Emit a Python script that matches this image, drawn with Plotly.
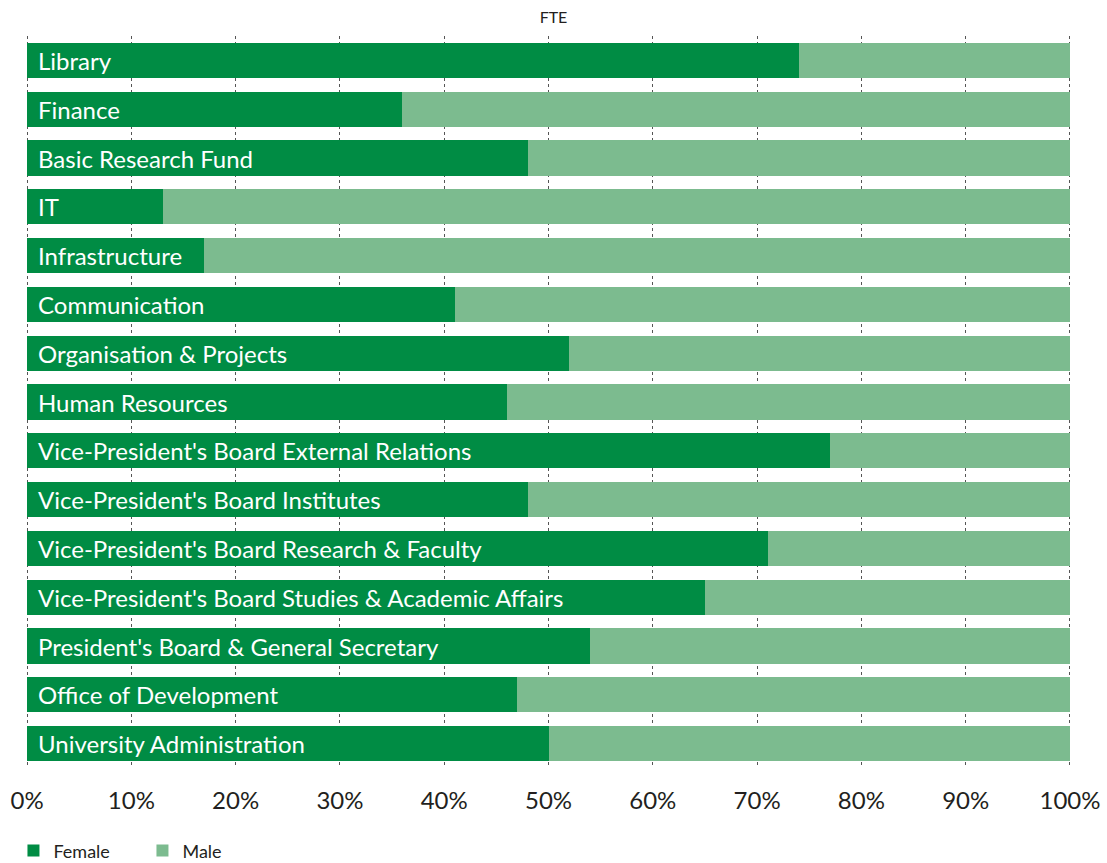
import plotly.graph_objects as go

departments = [
    "Library",
    "Finance",
    "Basic Research Fund",
    "IT",
    "Infrastructure",
    "Communication",
    "Organisation & Projects",
    "Human Resources",
    "Vice-President's Board External Relations",
    "Vice-President's Board Institutes",
    "Vice-President's Board Research & Faculty",
    "Vice-President's Board Studies & Academic Affairs",
    "President's Board & General Secretary",
    "Office of Development",
    "University Administration",
]
female = [74, 36, 48, 13, 17, 41, 52, 46, 77, 48, 71, 65, 54, 47, 50]
male = [100 - f for f in female]
tick_vals = [0, 10, 20, 30, 40, 50, 60, 70, 80, 90, 100]
tick_text = [f"{v}%" for v in tick_vals]

FONT = "Lato, 'Open Sans', sans-serif"
TEXT_COLOR = "#231F20"

fig = go.Figure()
fig.add_trace(go.Bar(
    y=departments, x=female, orientation="h", name="Female",
    marker=dict(color="#008C44", line=dict(width=0)),
    hoverinfo="x+y",
))
fig.add_trace(go.Bar(
    y=departments, x=male, orientation="h", name="Male",
    marker=dict(color="#7CBB8F", line=dict(width=0)),
    hoverinfo="x+y",
))

# department names sit inside the bars, on the left
for dep in departments:
    fig.add_annotation(
        x=0, y=dep, xref="x", yref="y", text=dep, showarrow=False,
        xanchor="left", xshift=9, font=dict(color="white", size=24, family=FONT),
    )

fig.update_layout(
    barmode="stack",
    bargap=0.28,
    width=1107, height=863,
    margin=dict(l=26, r=36, t=36, b=95, autoexpand=False),
    paper_bgcolor="white", plot_bgcolor="white",
    title=dict(text="FTE", x=0.5, xanchor="center", y=0.98, yanchor="middle",
               font=dict(size=16, color=TEXT_COLOR, family=FONT)),
    font=dict(family=FONT, color=TEXT_COLOR),
    legend=dict(orientation="h", x=-0.012, xanchor="left", y=-0.088, yanchor="top",
                font=dict(size=18, color=TEXT_COLOR, family=FONT),
                traceorder="normal", itemwidth=30,
                entrywidth=84, entrywidthmode="pixels"),
    showlegend=True,
)
fig.update_xaxes(
    range=[-0.1, 100.1], tickvals=tick_vals, ticktext=tick_text,
    showgrid=True, gridcolor="#555555", gridwidth=1, griddash="3px,3px",
    zeroline=False, showline=False, ticks="", automargin=False,
    tickfont=dict(size=24, color=TEXT_COLOR, family=FONT),
    ticklabelstandoff=16,
)
fig.update_yaxes(
    autorange="reversed", showticklabels=False, showgrid=False,
    zeroline=False, showline=False, ticks="", automargin=False,
)

fig.write_html("out.html", config={"displayModeBar": False},
               post_script="document.body.style.margin='0';")
